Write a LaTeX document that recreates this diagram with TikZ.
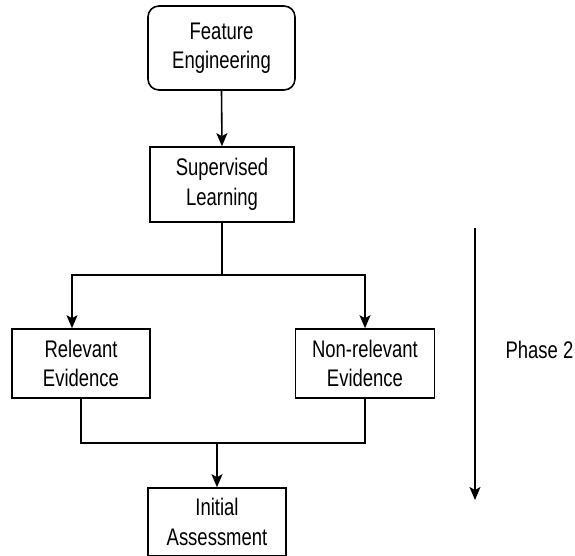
\documentclass[tikz,border=0pt]{standalone}
\usepackage{fontspec}
\newfontfamily\dfont{Liberation Sans}[FakeStretch=0.77]
\usetikzlibrary{arrows.meta}
\begin{document}
\begin{tikzpicture}[x=1pt,y=-1pt,
  box/.style={draw=black,line width=1.6pt,fill=white,align=center,inner sep=0pt,
    font=\dfont\fontsize{24}{29.5}\selectfont},
  lbl/.style={align=center,inner sep=0pt,font=\dfont\fontsize{24}{29.5}\selectfont},
  conn/.style={draw=black,line width=1.6pt},
  arr/.style={conn,-{Stealth[length=13pt,width=11pt,inset=3pt]}}]
\useasboundingbox (0,0) rectangle (575,556);
\node[box,rounded corners=11pt,minimum width=147pt,minimum height=84pt] (fe) at (221.5,48) {Feature\\Engineering};
\node[box,minimum width=144pt,minimum height=75pt] (sl) at (222,184.5) {Supervised\\Learning};
\node[box,minimum width=138pt,minimum height=69pt] (re) at (81,363.5) {Relevant\\Evidence};
\node[box,minimum width=139pt,minimum height=69pt] (nre) at (365,363.5) {Non-relevant\\Evidence};
\node[box,minimum width=138pt,minimum height=68pt] (ia) at (217,522) {Initial\\Assessment};
\node[lbl] (ph) at (539.5,350) {Phase 2};
\coordinate (pt) at (475,228);
\coordinate (pb) at (475,500);
\coordinate (jl) at (72,275);
\coordinate (jr) at (365,275);
\coordinate (m) at (217,443);
\draw[arr] (fe.south) -- (sl.north);
\draw[arr] (sl.south) |- (jl) -- (jl |- re.north);
\draw[arr] (sl.south) |- (jr) -- (jr |- nre.north);
\draw[conn] (re.south) -- (re.south |- m) -- (nre.south |- m) -- (nre.south);
\draw[arr] (m) -- (ia.north);
\draw[arr] (pt) -- (pb);
\end{tikzpicture}
\end{document}
